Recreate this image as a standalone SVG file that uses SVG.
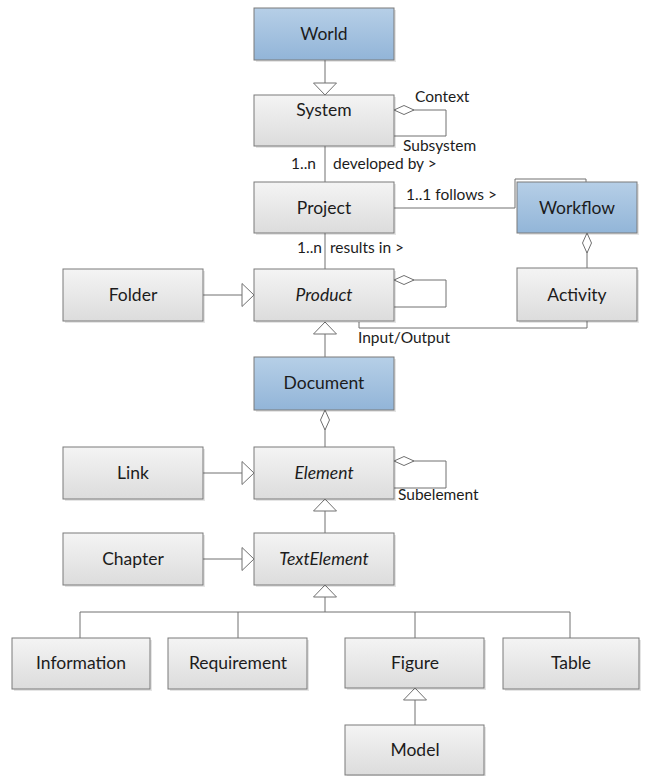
<svg xmlns="http://www.w3.org/2000/svg" width="648" height="776" viewBox="0 0 648 776">
  <defs>
    <linearGradient id="gGray" x1="0" y1="0" x2="0" y2="1">
      <stop offset="0" stop-color="#f4f4f4"/>
      <stop offset="1" stop-color="#dcdcdc"/>
    </linearGradient>
    <linearGradient id="gBlue" x1="0" y1="0" x2="0" y2="1">
      <stop offset="0" stop-color="#b6cfe7"/>
      <stop offset="1" stop-color="#92b5d8"/>
    </linearGradient>
    <!-- hollow generalization triangle -->
    <marker id="gen" markerUnits="userSpaceOnUse" markerWidth="14" markerHeight="26" refX="12" refY="11.5" orient="auto" overflow="visible">
      <path d="M0,0 L12,11.5 L0,23 Z" fill="#ffffff" stroke="#707070" stroke-width="1"/>
    </marker>
    <!-- hollow aggregation diamond -->
    <marker id="agg" markerUnits="userSpaceOnUse" markerWidth="22" markerHeight="12" refX="0" refY="4.5" orient="auto" overflow="visible">
      <path d="M0,4.5 L10,0 L20,4.5 L10,9 Z" fill="#ffffff" stroke="#707070" stroke-width="1"/>
    </marker>
  </defs>
  <style>
    .shadow { fill: #000000; opacity: 0.1; }
    .box { fill: url(#gGray); stroke: #7a7a7a; stroke-width: 1; }
    .box.blue { fill: url(#gBlue); }
    .name { font-family: Lato, "Liberation Sans", sans-serif; font-size: 17.5px; fill: #1c1c1c; text-anchor: middle; }
    .abstract { font-style: italic; }
    .lbl { font-family: Lato, "Liberation Sans", sans-serif; font-size: 15.5px; fill: #1c1c1c; }
    .conn { fill: none; stroke: #707070; stroke-width: 1; }
  </style>

  <rect width="648" height="776" fill="#ffffff"/>

  <!-- connectors -->
  <g id="connectors">
    <path class="conn" d="M325,60 V95" marker-end="url(#gen)"/>
    <path class="conn" d="M394,110 H446 V136 H394" marker-start="url(#agg)"/>
    <path class="conn" d="M325,146 V182"/>
    <path class="conn" d="M394,208 H515 V179 H586 V182"/>
    <path class="conn" d="M325,233 V269"/>
    <path class="conn" d="M587,233 V268" marker-start="url(#agg)"/>
    <path class="conn" d="M203,295 H254" marker-end="url(#gen)"/>
    <path class="conn" d="M394,280 H446 V307 H394" marker-start="url(#agg)"/>
    <path class="conn" d="M359,322 V328 H587 V321"/>
    <path class="conn" d="M325,357 V322" marker-end="url(#gen)"/>
    <path class="conn" d="M325,410 V447" marker-start="url(#agg)"/>
    <path class="conn" d="M203,473 H254" marker-end="url(#gen)"/>
    <path class="conn" d="M394,461 H446 V488 H394" marker-start="url(#agg)"/>
    <path class="conn" d="M325,533 V499" marker-end="url(#gen)"/>
    <path class="conn" d="M203,559 H254" marker-end="url(#gen)"/>
    <path class="conn" d="M325,612 V585" marker-end="url(#gen)"/>
    <path class="conn" d="M80,638 V612 H570 V638"/>
    <path class="conn" d="M238,612 V638"/>
    <path class="conn" d="M415,612 V638"/>
    <path class="conn" d="M415,725 V688" marker-end="url(#gen)"/>

    <text class="lbl" x="415" y="102">Context</text>
    <text class="lbl" x="403" y="151">Subsystem</text>
    <text class="lbl" x="316" y="169" text-anchor="end">1..n</text>
    <text class="lbl" x="333" y="169">developed by &gt;</text>
    <text class="lbl" x="406" y="200">1..1 follows &gt;</text>
    <text class="lbl" x="322" y="253" text-anchor="end">1..n</text>
    <text class="lbl" x="330" y="253">results in &gt;</text>
    <text class="lbl" x="358" y="343">Input/Output</text>
    <text class="lbl" x="398" y="500">Subelement</text>
  </g>

  <!-- nodes -->
  <g id="world">
    <rect class="shadow" x="256" y="10" width="140" height="52"/>
    <rect class="box blue" x="254" y="8" width="140" height="52"/>
    <text class="name" x="324" y="40">World</text>
  </g>
  <g id="system">
    <rect class="shadow" x="256" y="97" width="140" height="51"/>
    <rect class="box" x="254" y="95" width="140" height="51"/>
    <text class="name" x="324" y="116">System</text>
  </g>
  <g id="project">
    <rect class="shadow" x="256" y="184" width="140" height="51"/>
    <rect class="box" x="254" y="182" width="140" height="51"/>
    <text class="name" x="324" y="214">Project</text>
  </g>
  <g id="workflow">
    <rect class="shadow" x="519" y="184" width="120" height="51"/>
    <rect class="box blue" x="517" y="182" width="120" height="51"/>
    <text class="name" x="577" y="214">Workflow</text>
  </g>
  <g id="folder">
    <rect class="shadow" x="65" y="271" width="140" height="52"/>
    <rect class="box" x="63" y="269" width="140" height="52"/>
    <text class="name" x="133" y="301">Folder</text>
  </g>
  <g id="product">
    <rect class="shadow" x="256" y="271" width="140" height="52"/>
    <rect class="box" x="254" y="269" width="140" height="52"/>
    <text class="name abstract" x="324" y="301">Product</text>
  </g>
  <g id="activity">
    <rect class="shadow" x="519" y="270" width="120" height="53"/>
    <rect class="box" x="517" y="268" width="120" height="53"/>
    <text class="name" x="577" y="301">Activity</text>
  </g>
  <g id="document">
    <rect class="shadow" x="256" y="359" width="140" height="53"/>
    <rect class="box blue" x="254" y="357" width="140" height="53"/>
    <text class="name" x="324" y="389">Document</text>
  </g>
  <g id="link">
    <rect class="shadow" x="65" y="449" width="140" height="52"/>
    <rect class="box" x="63" y="447" width="140" height="52"/>
    <text class="name" x="133" y="479">Link</text>
  </g>
  <g id="element">
    <rect class="shadow" x="256" y="449" width="140" height="52"/>
    <rect class="box" x="254" y="447" width="140" height="52"/>
    <text class="name abstract" x="324" y="479">Element</text>
  </g>
  <g id="chapter">
    <rect class="shadow" x="65" y="535" width="140" height="52"/>
    <rect class="box" x="63" y="533" width="140" height="52"/>
    <text class="name" x="133" y="565">Chapter</text>
  </g>
  <g id="textelement">
    <rect class="shadow" x="256" y="535" width="140" height="52"/>
    <rect class="box" x="254" y="533" width="140" height="52"/>
    <text class="name abstract" x="324" y="565">TextElement</text>
  </g>
  <g id="information">
    <rect class="shadow" x="14" y="640" width="138" height="51"/>
    <rect class="box" x="12" y="638" width="138" height="51"/>
    <text class="name" x="81" y="669">Information</text>
  </g>
  <g id="requirement">
    <rect class="shadow" x="170" y="640" width="139" height="51"/>
    <rect class="box" x="168" y="638" width="139" height="51"/>
    <text class="name" x="238" y="669">Requirement</text>
  </g>
  <g id="figure">
    <rect class="shadow" x="347" y="640" width="139" height="50"/>
    <rect class="box" x="345" y="638" width="139" height="50"/>
    <text class="name" x="415" y="669">Figure</text>
  </g>
  <g id="table">
    <rect class="shadow" x="505" y="640" width="136" height="51"/>
    <rect class="box" x="503" y="638" width="136" height="51"/>
    <text class="name" x="571" y="669">Table</text>
  </g>
  <g id="model">
    <rect class="shadow" x="347" y="727" width="139" height="51"/>
    <rect class="box" x="345" y="725" width="139" height="50"/>
    <text class="name" x="415" y="756">Model</text>
  </g>
</svg>
